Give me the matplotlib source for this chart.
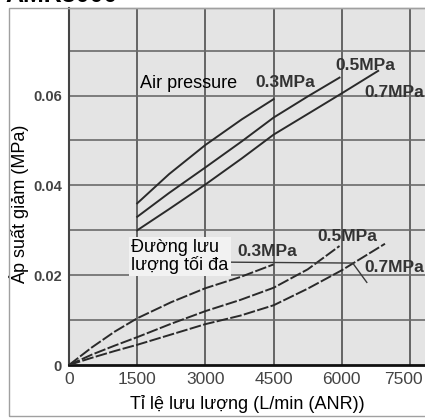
import numpy as np
import matplotlib
matplotlib.use("Agg")
import matplotlib.pyplot as plt
import matplotlib.transforms as mtransforms
from matplotlib.patches import Rectangle

plt.rcParams['font.family'] = ['Liberation Sans', 'DejaVu Sans']

# upper curves: pressure drop (air pressure)
up_03_x = [1500, 2200, 3000, 3800, 4500]
up_03_y = [0.0360, 0.0425, 0.0490, 0.0547, 0.0592]
up_05_x = [1500, 2200, 3000, 3800, 4500, 5250, 5950]
up_05_y = [0.0330, 0.0383, 0.0440, 0.0498, 0.0551, 0.0598, 0.0640]
up_07_x = [1500, 2200, 3000, 3800, 4500, 5300, 6000, 6800]
up_07_y = [0.0300, 0.0347, 0.0402, 0.0460, 0.0513, 0.0562, 0.0605, 0.0655]

# lower curves: maximum flow line
lo_03_x = [0, 500, 1000, 1500, 2250, 3000, 3770, 4500]
lo_03_y = [0.0, 0.0039, 0.0074, 0.0104, 0.0140, 0.0171, 0.0196, 0.0224]
lo_05_x = [0, 500, 1000, 1500, 2250, 3000, 3770, 4500, 5250, 5950]
lo_05_y = [0.0, 0.0023, 0.0043, 0.0062, 0.0092, 0.0120, 0.0145, 0.0172, 0.0213, 0.0265]
lo_07_x = [0, 500, 1000, 1500, 2250, 3000, 3770, 4500, 5250, 6000, 6950]
lo_07_y = [0.0, 0.0016, 0.0031, 0.0045, 0.0068, 0.0091, 0.0110, 0.0133, 0.0170, 0.0211, 0.0270]

leader_x = [3550, 6240, 6550]
leader_y = [0.0229, 0.0227, 0.0184]

x_ticks = [0, 1500, 3000, 4500, 6000, 7500]
y_ticks = [0, 0.02, 0.04, 0.06]
y_tick_labels = ['0', '0.02', '0.04', '0.06']
y_grid = [0.01, 0.02, 0.03, 0.04, 0.05, 0.06, 0.07]

fig = plt.figure(figsize=(4.25, 4.19), dpi=100)
fig.patch.set_facecolor('white')

# outer frame of the scanned figure
fig.patches.append(Rectangle((9/425, 3/419), 1.0, 1 - 11/419, transform=fig.transFigure,
                             fill=False, edgecolor='#a0a0a0', lw=1.0, zorder=0))
# title, mostly cut off at the top edge
fig.text(5/425, 1 - 1.5/419, 'AMR3000', fontsize=18, fontweight='bold', color='black',
         ha='left', va='baseline')

ax = fig.add_axes([69/425, 54/419, 356/425, 357/419])
ax.set_facecolor('#e4e4e4')
ax.set_xlim(0, 7830)
ax.set_ylim(0, 0.0795)

for gx in x_ticks[1:]:
    ax.axvline(gx, color='#5a5a5a', lw=1.3, zorder=1)
for gy in y_grid:
    ax.axhline(gy, color='#6a6a6a', lw=1.2, zorder=1)

line_kw = dict(color='#2a2a2a', lw=1.4, zorder=3)
ax.plot(up_03_x, up_03_y, **line_kw)
ax.plot(up_05_x, up_05_y, **line_kw)
ax.plot(up_07_x, up_07_y, **line_kw)

dash_kw = dict(color='#2a2a2a', lw=1.4, ls=(0, (6, 1.2)), zorder=3)
ax.plot(lo_03_x, lo_03_y, **dash_kw)
ax.plot(lo_05_x, lo_05_y, **dash_kw)
ax.plot(lo_07_x, lo_07_y, **dash_kw)

ax.plot(leader_x, leader_y, color='#3a3a3a', lw=1.0, zorder=3)

lab_kw = dict(fontsize=12.5, fontweight='bold', color='#333333', va='center', ha='left', zorder=4)
ax.text(1560, 0.0627, 'Air pressure', fontsize=13, color='black', va='center', ha='left', zorder=4)
ax.text(4100, 0.0629, '0.3MPa', **lab_kw)
ax.text(5850, 0.0667, '0.5MPa', **lab_kw)
ax.text(6500, 0.0607, '0.7MPa', **lab_kw)

ax.text(1370, 0.0242, 'Đường lưu\nlượng tối đa', fontsize=13, color='black', va='center',
        ha='left', linespacing=1.0, zorder=4,
        bbox=dict(facecolor='#f2f2f2', edgecolor='none', pad=1.5))
ax.text(3700, 0.0253, '0.3MPa', **lab_kw)
ax.text(5460, 0.0287, '0.5MPa', **lab_kw)
ax.text(6500, 0.0218, '0.7MPa', **lab_kw)

ax.set_xticks(x_ticks)
ax.set_xticklabels([str(v) for v in x_ticks], fontsize=12.5, color='#444444')
ax.set_yticks(y_ticks)
ax.set_yticklabels(y_tick_labels, fontsize=10.5, color='#444444', fontweight='bold')
ax.tick_params(length=0, pad=5)

# last x label sits a bit left of its grid line in the reference
last = ax.get_xticklabels()[-1]
last.set_transform(last.get_transform() +
                   mtransforms.ScaledTranslation(-7/100, 0, fig.dpi_scale_trans))

ax.spines['right'].set_visible(False)
ax.spines['top'].set_color('#a0a0a0')
ax.spines['top'].set_linewidth(1.0)
ax.spines['left'].set_color('#444444')
ax.spines['left'].set_linewidth(1.5)
ax.spines['bottom'].set_color('#111111')
ax.spines['bottom'].set_linewidth(2.0)

ax.set_xlabel('Tỉ lệ lưu lượng (L/min (ANR))', fontsize=13, color='black', labelpad=6)
ax.set_ylabel('Áp suất giảm (MPa)', fontsize=13, color='black', labelpad=4)
ax.yaxis.set_label_coords(-40/356, 0.45)

fig.savefig('out.png', dpi=100)
